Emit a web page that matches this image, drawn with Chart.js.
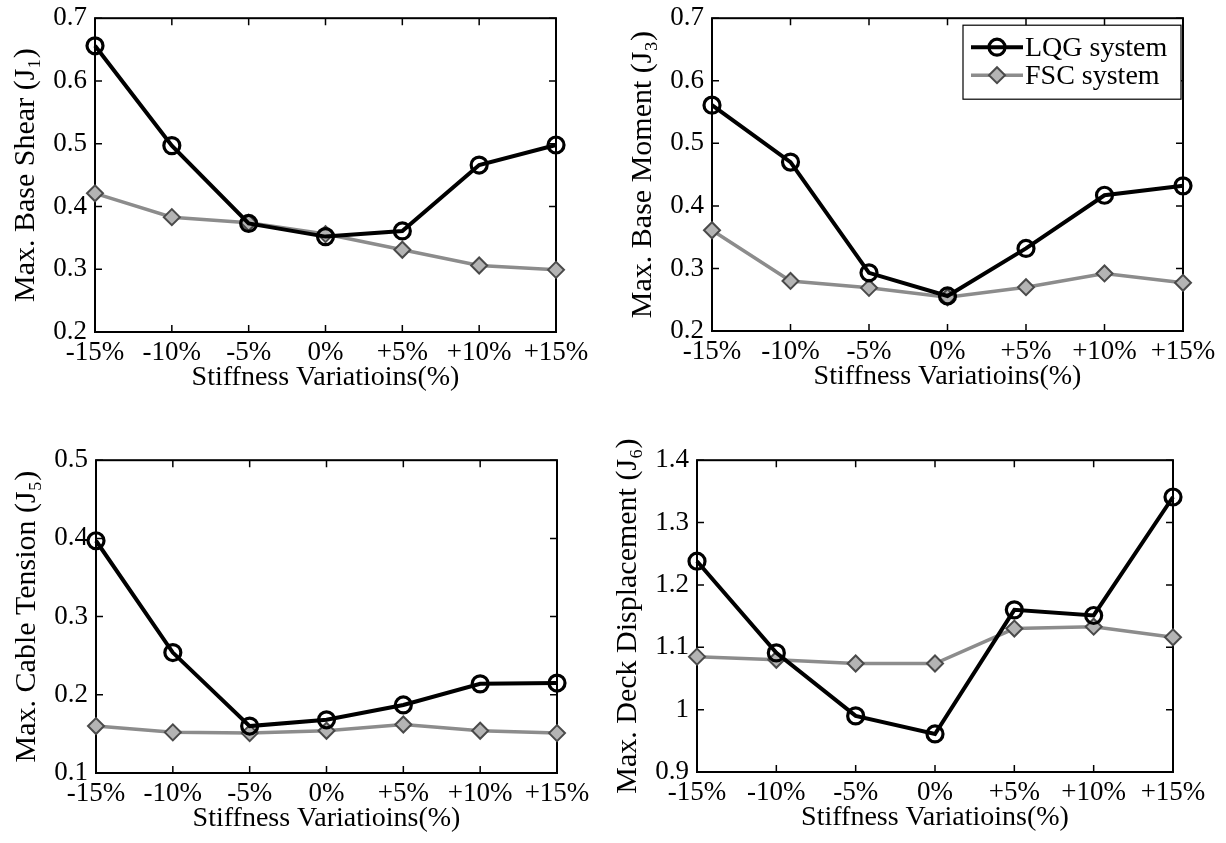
<!DOCTYPE html>
<html><head><meta charset="utf-8">
<script src="https://cdn.jsdelivr.net/npm/chart.js@4.4.0/dist/chart.umd.min.js"></script>
<style>
html,body{margin:0;padding:0;background:#fff;width:1226px;height:843px;overflow:hidden;position:relative}
canvas{position:absolute}
</style></head><body>
<canvas id="c1"></canvas><canvas id="c2"></canvas><canvas id="c3"></canvas><canvas id="c4"></canvas>
<script>
// ---------- data ----------
const categories = ['-15%', '-10%', '-5%', '0%', '+5%', '+10%', '+15%'];
const seriesNames = ['LQG system', 'FSC system'];
const xTitle = 'Stiffness Variatioins(%)';

const shearLQG  = [0.656, 0.497, 0.373, 0.352, 0.361, 0.466, 0.498];
const shearFSC  = [0.421, 0.383, 0.374, 0.356, 0.331, 0.306, 0.299];
const momentLQG = [0.561, 0.470, 0.293, 0.256, 0.332, 0.417, 0.432];
const momentFSC = [0.361, 0.280, 0.269, 0.254, 0.270, 0.292, 0.277];
const cableLQG  = [0.397, 0.254, 0.160, 0.168, 0.187, 0.214, 0.215];
const cableFSC  = [0.160, 0.152, 0.151, 0.154, 0.162, 0.154, 0.151];
const deckLQG   = [1.238, 1.091, 0.990, 0.961, 1.160, 1.151, 1.341];
const deckFSC   = [1.085, 1.080, 1.074, 1.074, 1.130, 1.133, 1.116];

const shearTicks  = [0.2, 0.3, 0.4, 0.5, 0.6, 0.7];
const momentTicks = [0.2, 0.3, 0.4, 0.5, 0.6, 0.7];
const cableTicks  = [0.1, 0.2, 0.3, 0.4, 0.5];
const deckTicks   = [0.9, 1.0, 1.1, 1.2, 1.3, 1.4];

const yTitles = ['Max. Base Shear (J\u2081)', 'Max. Base Moment (J\u2083)', 'Max. Cable Tension (J\u2085)', 'Max. Deck Displacement (J\u2086)'];

// ---------- layout (plot-area pixel boxes) ----------
const panels = [
  {id: 'c1', L: 95,  R: 556,  T: 14,  B: 332, lqg: shearLQG,  fsc: shearFSC,  ticks: shearTicks,  title: yTitles[0], legend: false},
  {id: 'c2', L: 712, R: 1183, T: 14,  B: 331, lqg: momentLQG, fsc: momentFSC, ticks: momentTicks, title: yTitles[1], legend: true},
  {id: 'c3', L: 96,  R: 557,  T: 456, B: 773, lqg: cableLQG,  fsc: cableFSC,  ticks: cableTicks,  title: yTitles[2], legend: false},
  {id: 'c4', L: 697, R: 1173, T: 456, B: 772, lqg: deckLQG,   fsc: deckFSC,   ticks: deckTicks,   title: yTitles[3], legend: false}
];

const FONT = '"Liberation Serif", "Times New Roman", serif';
const YW = 95, XH = 66, PT = 20, PR = 40;

const boxPlugin = {
  id: 'matlabBox',
  beforeDatasetsDraw(chart) {
    const {ctx, chartArea: a, scales} = chart;
    ctx.save();
    ctx.strokeStyle = '#000';
    ctx.lineWidth = 2;
    ctx.strokeRect(a.left, a.top, a.right - a.left, a.bottom - a.top);
    ctx.lineWidth = 1.5;
    const tl = 7;
    const xs = scales.x, ys = scales.y;
    ctx.beginPath();
    xs.ticks.forEach((t, i) => {
      const px = xs.getPixelForTick(i);
      ctx.moveTo(px, a.bottom); ctx.lineTo(px, a.bottom - tl);
      ctx.moveTo(px, a.top); ctx.lineTo(px, a.top + tl);
    });
    ys.ticks.forEach((t, i) => {
      const py = ys.getPixelForTick(i);
      ctx.moveTo(a.left, py); ctx.lineTo(a.left + tl, py);
      ctx.moveTo(a.right, py); ctx.lineTo(a.right - tl, py);
    });
    ctx.stroke();
    ctx.restore();
  }
};

const legendPlugin = {
  id: 'matlabLegend',
  afterDatasetsDraw(chart, args, opts) {
    if (!opts || !opts.show) return;
    const {ctx, chartArea: a} = chart;
    const w = 218, h = 74;
    const x0 = a.right - 2 - w, y0 = a.top + 7;
    ctx.save();
    ctx.fillStyle = '#fff';
    ctx.fillRect(x0, y0, w, h);
    ctx.strokeStyle = '#000';
    ctx.lineWidth = 1.2;
    ctx.strokeRect(x0, y0, w, h);
    chart.data.datasets.forEach((ds, i) => {
      const cy = y0 + 22 + i * 28;
      ctx.strokeStyle = ds.borderColor;
      ctx.lineWidth = ds.borderWidth;
      ctx.beginPath(); ctx.moveTo(x0 + 8, cy); ctx.lineTo(x0 + 60, cy); ctx.stroke();
      ctx.fillStyle = ds.pointBackgroundColor;
      ctx.strokeStyle = ds.pointBorderColor;
      ctx.lineWidth = ds.pointBorderWidth;
      Chart.helpers.drawPoint(ctx, {pointStyle: ds.pointStyle, radius: ds.pointRadius, borderWidth: ds.pointBorderWidth, rotation: 0}, x0 + 34, cy);
      ctx.fillStyle = '#000';
      ctx.font = '28px ' + FONT;
      ctx.textBaseline = 'middle';
      ctx.fillText(ds.label, x0 + 62, cy + 1);
    });
    ctx.restore();
  }
};

function fmt(v) { return String(Number(v.toFixed(2))); }

panels.forEach(p => {
  const cv = document.getElementById(p.id);
  const W = YW + (p.R - p.L) + PR;
  const H = PT + (p.B - p.T) + XH;
  cv.width = W; cv.height = H;
  cv.style.left = (p.L - YW) + 'px';
  cv.style.top = (p.T - PT) + 'px';
  cv.style.width = W + 'px'; cv.style.height = H + 'px';
  const tickVals = p.ticks;
  new Chart(cv, {
    type: 'line',
    data: {
      labels: categories,
      datasets: [
        {
          label: seriesNames[0], data: p.lqg,
          borderColor: '#000', borderWidth: 4,
          pointStyle: 'circle', pointRadius: 8, pointBorderWidth: 3.2,
          pointBackgroundColor: 'rgba(255,255,255,0)', pointBorderColor: '#000',
          tension: 0, clip: false, order: 0
        },
        {
          label: seriesNames[1], data: p.fsc,
          borderColor: '#8c8c8c', borderWidth: 3.5,
          pointStyle: 'rectRot', pointRadius: 8, pointBorderWidth: 2,
          pointBackgroundColor: '#b4b4b4', pointBorderColor: '#4a4a4a',
          tension: 0, clip: false, order: 1
        }
      ]
    },
    options: {
      responsive: false, animation: false, devicePixelRatio: 1,
      layout: {padding: {top: PT, right: PR, left: 0, bottom: 0}},
      plugins: {legend: {display: false}, tooltip: {enabled: false}, matlabLegend: {show: p.legend}},
      scales: {
        x: {
          type: 'category', offset: false,
          grid: {display: false, drawTicks: false}, border: {display: false},
          ticks: {color: '#000', font: {family: FONT, size: 27}, padding: 5, maxRotation: 0, autoSkip: false},
          title: {display: true, text: xTitle, color: '#000', font: {family: FONT, size: 28}, padding: {top: 0, bottom: 4}},
          afterFit: s => { s.height = XH; }
        },
        y: {
          min: tickVals[0], max: tickVals[tickVals.length - 1],
          grid: {display: false, drawTicks: false}, border: {display: false},
          afterBuildTicks: s => { s.ticks = tickVals.map(v => ({value: v})); },
          ticks: {color: '#000', font: {family: FONT, size: 27}, padding: 8, callback: v => fmt(v)},
          title: {display: true, text: p.title, color: '#000', font: {family: FONT, size: 30}, padding: {top: 8, bottom: 0}},
          afterFit: s => { s.width = YW; }
        }
      }
    },
    plugins: [boxPlugin, legendPlugin]
  });
});
</script>
</body></html>
